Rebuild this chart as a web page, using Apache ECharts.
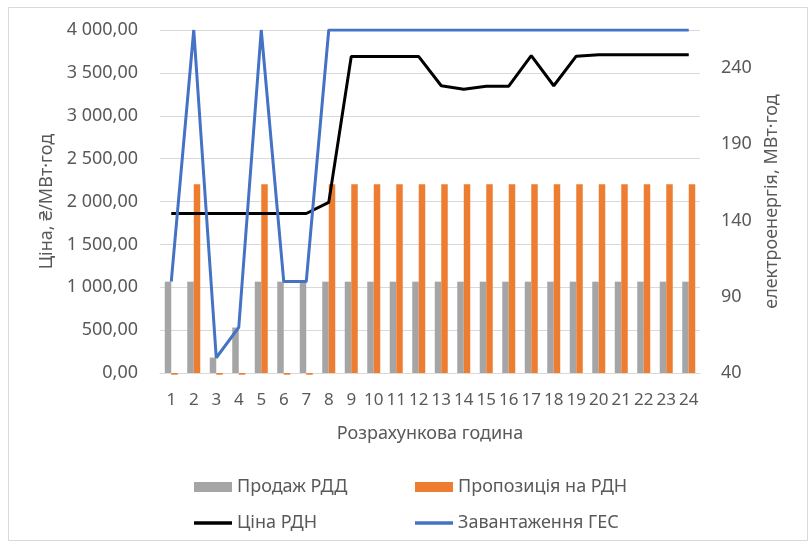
<!DOCTYPE html>
<html>
<head>
<meta charset="utf-8">
<script src="https://cdn.jsdelivr.net/npm/echarts@6/dist/echarts.min.js"></script>
<style>
html,body{margin:0;padding:0;background:#fff;}
#c{width:811px;height:547px;}
</style>
</head>
<body>
<div id="c"></div>
<script>
const hours = ['1','2','3','4','5','6','7','8','9','10','11','12','13','14','15','16','17','18','19','20','21','22','23','24'];
const salesRDD = [1065,1065,180,530,1065,1065,1065,1065,1065,1065,1065,1065,1065,1065,1065,1065,1065,1065,1065,1065,1065,1065,1065,1065];
const offerRDN = [-20,2200,-20,-20,2200,-20,-20,2200,2200,2200,2200,2200,2200,2200,2200,2200,2200,2200,2200,2200,2200,2200,2200,2200];
const priceRDN = [1860,1860,1860,1860,1860,1860,1860,1990,3690,3690,3690,3690,3350,3310,3345,3345,3700,3350,3695,3710,3710,3710,3710,3710];
const hydroLoad = [100,265,50,70,265,100,100,265,265,265,265,265,265,265,265,265,265,265,265,265,265,265,265,265];
const names = ['Продаж РДД','Пропозиція на РДН','Ціна РДН','Завантаження ГЕС'];

const FONT = 'Noto Sans';
const TXT = '#595959';
function fmt(v){
  const s = Math.abs(v).toFixed(2).split('.');
  const int = s[0].replace(/\B(?=(\d{3})+(?!\d))/g, ' ');
  return (v<0?'-':'') + int + ',' + s[1];
}
const chart = echarts.init(document.getElementById('c'));
const legendBase = {orient:'horizontal', itemWidth:38, itemGap:0, padding:0,
  textStyle:{color:TXT, fontFamily:FONT, fontSize:18}};
chart.setOption({
  animation:false,
  backgroundColor:'#fff',
  textStyle:{fontFamily:FONT},
  graphic:[{type:'rect', shape:{x:8.5,y:7.5,width:799,height:533}, style:{fill:null, stroke:'#D9D9D9', lineWidth:1}, silent:true}],
  grid:{left:160, right:111, top:30, bottom:174},
  legend:[
    Object.assign({}, legendBase, {data:[{name:names[0], icon:'rect'}], itemHeight:10, left:194, top:478}),
    Object.assign({}, legendBase, {data:[{name:names[1], icon:'rect'}], itemHeight:10, left:415, top:478}),
    Object.assign({}, legendBase, {data:[{name:names[2], icon:'rect'}], itemHeight:3.5, left:194, top:514}),
    Object.assign({}, legendBase, {data:[{name:names[3], icon:'rect'}], itemHeight:3.5, left:415, top:514})
  ],
  xAxis:{type:'category', data:hours,
    name:'Розрахункова година', nameLocation:'middle', nameGap:52,
    nameTextStyle:{color:TXT, fontSize:18, fontFamily:FONT},
    axisLine:{lineStyle:{color:'#D9D9D9'}}, axisTick:{show:false},
    axisLabel:{color:TXT, fontSize:17, fontFamily:FONT, margin:19, interval:0}},
  yAxis:[
    {type:'value', min:0, max:4000, interval:500,
     name:'Ціна, ₴/МВт·год', nameLocation:'middle', nameGap:104, nameRotate:90,
     nameTextStyle:{color:TXT, fontSize:18, fontFamily:FONT},
     axisLine:{show:false}, axisTick:{show:false},
     splitLine:{lineStyle:{color:'#D9D9D9'}},
     axisLabel:{color:TXT, fontSize:18, fontFamily:FONT, margin:22, formatter:fmt}},
    {type:'value', min:40, max:265, interval:50,
     name:'електроенергія, МВт·год', nameLocation:'middle', nameGap:61, nameRotate:90,
     nameTextStyle:{color:TXT, fontSize:18, fontFamily:FONT},
     axisLine:{show:false}, axisTick:{show:false}, splitLine:{show:false},
     axisLabel:{color:TXT, fontSize:18, fontFamily:FONT, margin:21, showMaxLabel:false}}
  ],
  series:[
    {name:names[0], type:'bar', data:salesRDD, barWidth:6.5, barGap:'0%', itemStyle:{color:'#A5A5A5'}},
    {name:names[1], type:'bar', data:offerRDN, barWidth:6.5, barGap:'0%', clip:false, itemStyle:{color:'#ED7D31'}},
    {name:names[2], type:'line', data:priceRDN, symbol:'none', lineStyle:{color:'#000000', width:3}, itemStyle:{color:'#000000'}},
    {name:names[3], type:'line', yAxisIndex:1, data:hydroLoad, symbol:'none', lineStyle:{color:'#4472C4', width:3}, itemStyle:{color:'#4472C4'}}
  ]
});
</script>
</body>
</html>
